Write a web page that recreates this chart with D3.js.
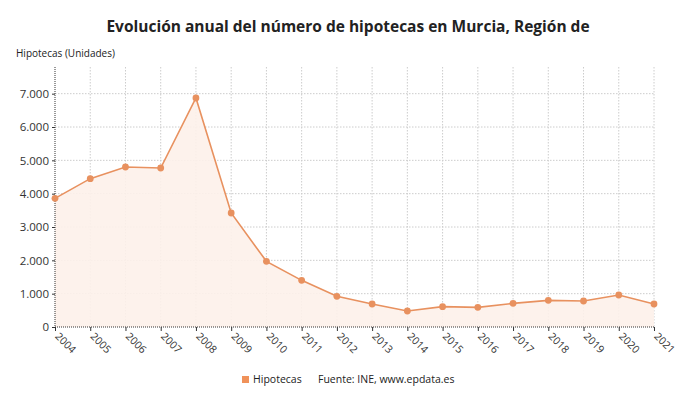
<!DOCTYPE html>
<html><head><meta charset="utf-8">
<script src="https://cdn.jsdelivr.net/npm/d3@7"></script>
<style>body{margin:0;background:#fff;font-family:"Open Sans",sans-serif}</style>
</head><body><svg id="c" width="690" height="406"></svg>
<script>
const years = ["2004","2005","2006","2007","2008","2009","2010","2011","2012","2013","2014","2015","2016","2017","2018","2019","2020","2021"];
const hipotecas = [3860,4450,4800,4770,6870,3420,1970,1400,920,690,480,610,590,710,800,780,960,690];
const yTicks = [0,1000,2000,3000,4000,5000,6000,7000];
const yTickLabels = ["0","1.000","2.000","3.000","4.000","5.000","6.000","7.000"];

(function(){
const svg = d3.select("#c");
const pL = 55, pR = 654, pT = 67, pB = 327;
const x = d3.scalePoint().domain(years).range([pL, pR]);
const y = d3.scaleLinear().domain([0, 7800]).range([pB, pT]);
const col = "#e8915f";

svg.append("text").attr("x", 348).attr("y", 32).attr("text-anchor","middle")
  .attr("font-size", 15.5).attr("font-weight", 700).attr("fill", "#222")
  .text("Evolución anual del número de hipotecas en Murcia, Región de");
svg.append("text").attr("x", 16).attr("y", 57).attr("font-size", 10).attr("fill","#222")
  .text("Hipotecas (Unidades)");

const g = svg.append("g");
g.selectAll(".hg").data(yTicks.slice(1)).join("line")
  .attr("x1", pL).attr("x2", pR).attr("y1", d=>y(d)).attr("y2", d=>y(d))
  .attr("stroke", "#ccc").attr("stroke-dasharray", "1.5,1.5");
g.selectAll(".vg").data(years.slice(1)).join("line")
  .attr("x1", d=>x(d)).attr("x2", d=>x(d)).attr("y1", pT).attr("y2", pB)
  .attr("stroke", "#ccc").attr("stroke-dasharray", "1.5,1.5");

const area = d3.area().x((d,i)=>x(years[i])).y0(pB).y1(d=>y(d));
svg.append("path").datum(hipotecas).attr("d", area).attr("fill", "#fdf1ea").attr("opacity", 0.9);

const yAxis = d3.axisLeft(y).tickValues(yTicks).tickFormat((d,i)=>yTickLabels[i]).tickSize(3);
const ya = svg.append("g").attr("transform", `translate(${pL},0)`).call(yAxis);
ya.select(".domain").attr("stroke", "#333").attr("stroke-dasharray", "1,1").attr("d", `M0,${pT}V${pB}`);
ya.selectAll(".tick line").attr("stroke", "#333");
ya.selectAll("text").attr("font-size", 11.5).attr("fill", "#333").attr("font-family","Open Sans").attr("x", -6);

const xAxis = d3.axisBottom(x).tickSize(4);
const xa = svg.append("g").attr("transform", `translate(0,${pB})`).call(xAxis);
xa.select(".domain").attr("stroke", "#333").attr("stroke-dasharray", "1,1").attr("d", `M${pL},0H${pR}`);
xa.selectAll(".tick line").attr("stroke", "#333");
xa.selectAll("text").attr("font-size", 10.5).attr("fill", "#333").attr("font-family","Open Sans")
  .attr("text-anchor", "start").attr("dy", 0).attr("y", 0)
  .attr("transform", "translate(-1,10) rotate(45)");

const line = d3.line().x((d,i)=>x(years[i])).y(d=>y(d));
svg.append("path").datum(hipotecas).attr("d", line).attr("fill","none").attr("stroke", col).attr("stroke-width", 1.6);
svg.selectAll(".pt").data(hipotecas).join("circle")
  .attr("cx", (d,i)=>x(years[i])).attr("cy", d=>y(d)).attr("r", 3.4).attr("fill", col);

svg.append("rect").attr("x", 242).attr("y", 376).attr("width", 7).attr("height", 7).attr("fill", "#f0925a");
svg.append("text").attr("x", 253).attr("y", 383).attr("font-size", 10.5).attr("fill","#222").text("Hipotecas");
svg.append("text").attr("x", 318).attr("y", 383).attr("font-size", 10.5).attr("fill","#222").text("Fuente: INE, www.epdata.es");
})();
</script></body></html>
